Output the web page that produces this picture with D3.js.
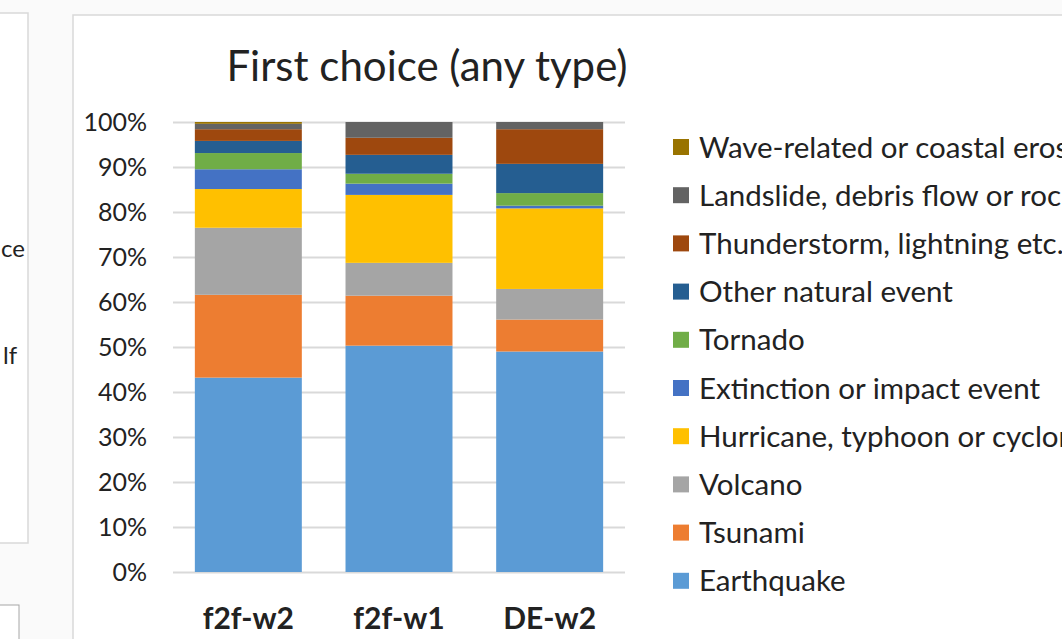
<!DOCTYPE html>
<html>
<head>
<meta charset="utf-8">
<script src="https://cdn.jsdelivr.net/npm/d3@7"></script>
<style>
  html, body { margin: 0; padding: 0; background: #fafafa; overflow: hidden; }
  text { font-family: Lato, "Open Sans", sans-serif; fill: #222; }
</style>
</head>
<body>
<svg id="chart"></svg>
<script>
// survey waves
var waves = ["f2f-w2", "f2f-w1", "DE-w2"];

// hazard types, bottom of stack first
var hazards = ["Earthquake", "Tsunami", "Volcano", "Hurricane, typhoon or cyclone",
    "Extinction or impact event", "Tornado", "Other natural event",
    "Thunderstorm, lightning etc.", "Landslide, debris flow or rockfall",
    "Wave-related or coastal erosion"];

var colors = ["#5b9bd5", "#ed7d31", "#a5a5a5", "#ffc000", "#4472c4",
    "#70ad47", "#255e91", "#9e480e", "#636363", "#997300"];

// percent per wave (f2f-w2, f2f-w1, DE-w2)
var earthquake = [43.2, 50.3, 49.0];
var tsunami = [18.4, 11.1, 7.1];
var volcano = [14.9, 7.3, 6.8];
var hurricane = [8.6, 15.1, 17.9];
var extinction = [4.4, 2.5, 0.6];
var tornado = [3.6, 2.2, 2.8];
var otherNatural = [2.7, 4.2, 6.5];
var thunderstorm = [2.6, 3.8, 7.7];
var landslide = [1.2, 3.5, 1.6];
var waveRelated = [0.4, 0, 0];

var yTicks = [0, 10, 20, 30, 40, 50, 60, 70, 80, 90, 100];

var seriesValues = [earthquake, tsunami, volcano, hurricane, extinction,
    tornado, otherNatural, thunderstorm, landslide, waveRelated];

var width = 1062, height = 639;

var svg = d3.select("#chart")
    .attr("width", width)
    .attr("height", height);

// neighbouring chart boxes (cut off in the screenshot)
svg.append("rect")
    .attr("x", -10).attr("y", 13)
    .attr("width", 38).attr("height", 530)
    .attr("fill", "#fff")
    .attr("stroke", "#d9d9d9")
    .attr("stroke-width", 1.5);

svg.append("text")
    .attr("x", 1).attr("y", 257)
    .style("font-size", "24px")
    .text("ce");

svg.append("text")
    .attr("x", 3).attr("y", 364)
    .style("font-size", "24px")
    .text("lf");

svg.append("rect")
    .attr("x", -10).attr("y", 605)
    .attr("width", 29).attr("height", 60)
    .attr("fill", "#fff")
    .attr("stroke", "#a6a6a6")
    .attr("stroke-width", 1);

// main chart box
svg.append("rect")
    .attr("x", 73).attr("y", 15)
    .attr("width", 1100).attr("height", 700)
    .attr("fill", "#fff")
    .attr("stroke", "#d9d9d9")
    .attr("stroke-width", 1.5);

svg.append("text")
    .attr("x", 427)
    .attr("y", 81)
    .attr("text-anchor", "middle")
    .style("font-size", "42px")
    .text("First choice (any type)");

var x = d3.scaleBand()
    .domain(waves)
    .range([173, 625])
    .paddingInner(0.29)
    .paddingOuter(0.145);

var y = d3.scaleLinear()
    .domain([0, 100])
    .range([572, 122]);

// gridlines + tick labels
var yAxis = svg.append("g")
    .attr("transform", "translate(173,0)")
    .call(d3.axisLeft(y)
        .tickValues(yTicks)
        .tickSize(-452)
        .tickPadding(26)
        .tickFormat(function (d) { return d + "%"; }));

yAxis.select(".domain").remove();
yAxis.selectAll("line")
    .attr("stroke", "#d9d9d9")
    .attr("stroke-width", 2);
yAxis.selectAll("text")
    .attr("fill", "#333")
    .style("font-family", "Lato, sans-serif")
    .style("font-size", "25px");

// stack the series
var table = waves.map(function (w, i) {
    var row = { wave: w };
    hazards.forEach(function (h, j) {
        row[h] = seriesValues[j][i];
    });
    return row;
});

var stack = d3.stack().keys(hazards)(table);

svg.append("g")
    .selectAll("g")
    .data(stack)
    .enter()
    .append("g")
    .attr("fill", function (d, i) { return colors[i]; })
    .selectAll("rect")
    .data(function (d) { return d; })
    .enter()
    .append("rect")
    .attr("x", function (d) { return x(d.data.wave); })
    .attr("width", x.bandwidth())
    .attr("y", function (d) { return y(d[1]); })
    .attr("height", function (d) { return y(d[0]) - y(d[1]); });

// x labels
svg.append("g")
    .selectAll("text")
    .data(waves)
    .enter()
    .append("text")
    .attr("x", function (d) { return x(d) + x.bandwidth() / 2; })
    .attr("y", 629)
    .attr("text-anchor", "middle")
    .style("font-size", "30px")
    .style("font-weight", "bold")
    .text(function (d) { return d; });

// legend, top entry is last series
var legendOrder = hazards.slice().reverse();
var legendColors = colors.slice().reverse();

var legend = svg.append("g")
    .selectAll("g")
    .data(legendOrder)
    .enter()
    .append("g")
    .attr("transform", function (d, i) {
        return "translate(673," + (147 + i * 48.2) + ")";
    });

legend.append("rect")
    .attr("x", 0)
    .attr("y", -8)
    .attr("width", 16)
    .attr("height", 16)
    .attr("fill", function (d, i) { return legendColors[i]; });

legend.append("text")
    .attr("x", 26)
    .attr("y", 0)
    .attr("dy", "0.36em")
    .style("font-size", "29.5px")
    .text(function (d) { return d; });
</script>
</body>
</html>
